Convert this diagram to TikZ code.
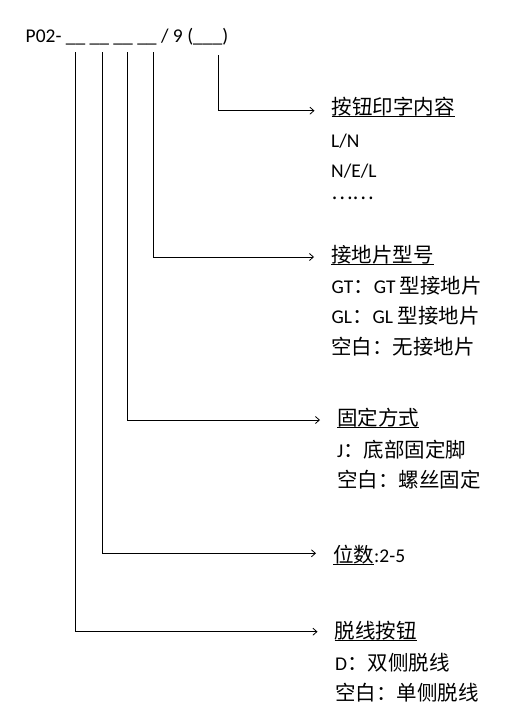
\documentclass[tikz,border=0pt]{standalone}
\usepackage{fontspec}
\setmainfont{Carlito}[Scale=0.95]
\newfontfamily\cjk{Noto Sans CJK SC}
\usetikzlibrary{arrows.meta}
\newsavebox\ulbox
\newcommand{\uln}[1]{\sbox\ulbox{#1}\rlap{\rule[-2.4pt]{\wd\ulbox}{0.8pt}}\usebox\ulbox}

\begin{document}
\begin{tikzpicture}[x=1pt,y=-1pt,font=\fontsize{20.5}{24}\selectfont,
  txt/.style={anchor=base west, inner sep=0pt},
  lead/.style={line width=0.8pt, -{Straight Barb[length=4pt,width=7pt]}, shorten >=17pt}]
\useasboundingbox (0,0) rectangle (504,720);

\node[txt] (code) at (25.5,42) {P02- \_\_ \_\_ \_\_ \_\_ / 9 (\_\_\_)};

\coordinate (s1) at (75,52);
\coordinate (s2) at (102,52);
\coordinate (s3) at (127,52);
\coordinate (s4) at (153,52);
\coordinate (s5) at (218.3,55);

% button print
\node[txt] (print) at (331.5,114.7) {\cjk\uln{按钮印字内容}};
\node[txt] (print1) at (331,147) {L/N};
\node[txt] (print2) at (331,177) {N/E/L};
\node[txt] (print3) at (331,207) {\raisebox{7.5pt}{\cjk ……}};
\draw[lead] (s5) |- ([yshift=4pt]print.base west);

% earth tab
\node[txt] (earth) at (331,262) {\cjk\uln{接地片型号}};
\node[txt] (earth1) at (331.5,293) {GT{\cjk ：}GT {\cjk 型接地片}};
\node[txt] (earth2) at (331.5,323) {GL{\cjk ：}GL {\cjk 型接地片}};
\node[txt] (earth3) at (331,354) {\cjk 空白：无接地片};
\draw[lead] (s4) |- ([yshift=5pt]earth.base west);

% fixing
\node[txt] (fix) at (337,425) {\cjk\uln{固定方式}};
\node[txt] (fix1) at (337,457) {J{\cjk ：底部固定脚}};
\node[txt] (fix2) at (337,487) {\cjk 空白：螺丝固定};
\draw[lead] (s3) |- ([yshift=5pt]fix.base west);

% poles
\node[txt] (pole) at (333,562) {{\cjk\uln{位数}}:2-5};
\draw[lead] (s2) |- ([yshift=8.7pt]pole.base west);

% release
\node[txt] (wire) at (334.5,638) {\cjk\uln{脱线按钮}};
\node[txt] (wire1) at (335,670) {D{\cjk ：双侧脱线}};
\node[txt] (wire2) at (335,700) {\cjk 空白：单侧脱线};
\draw[lead] (s1) |- ([yshift=6.3pt]wire.base west);

\end{tikzpicture}
\end{document}
